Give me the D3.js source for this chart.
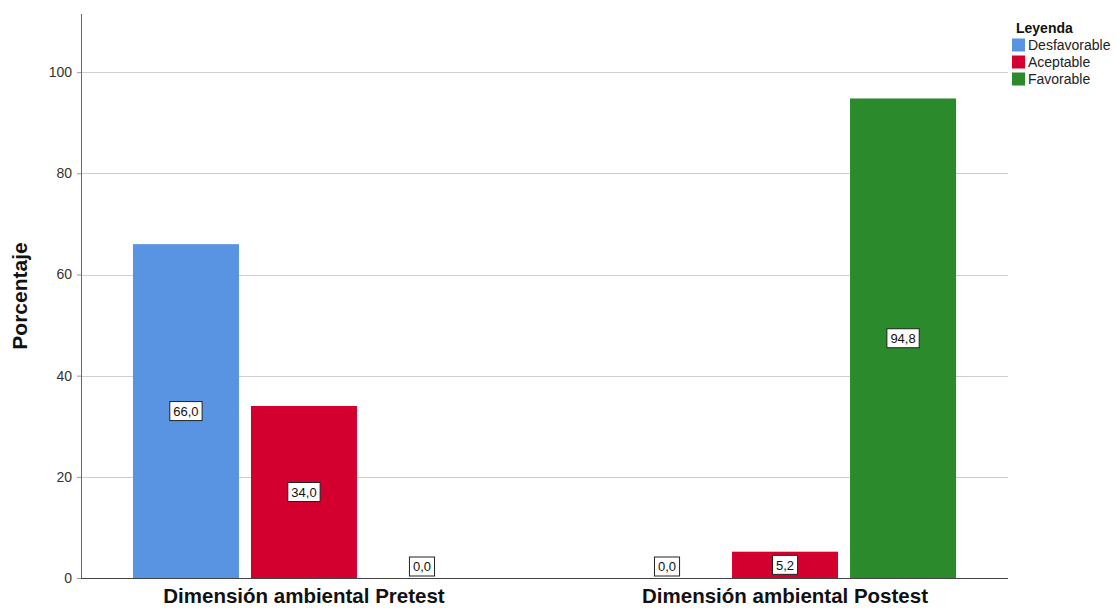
<!DOCTYPE html>
<html><head><meta charset="utf-8">
<script src="https://cdn.jsdelivr.net/npm/d3@7"></script>
<style>body{margin:0;background:#fff}svg{display:block}</style>
</head><body>
<svg id="c" width="1116" height="608"></svg>
<script>
const categories = ["Dimensión ambiental Pretest", "Dimensión ambiental Postest"];
const series = ["Desfavorable", "Aceptable", "Favorable"];
const desfavorable = [66.0, 0.0];
const aceptable = [34.0, 5.2];
const favorable = [0.0, 94.8];
const yTicks = [0, 20, 40, 60, 80, 100];
const colors = ["#5894e2", "#d3002f", "#2a8a2c"];

(function () {
const svg = d3.select("#c");
const pl = 81, pr = 1008, pt = 14, pb = 578;
const y = d3.scaleLinear().domain([0, 111.5]).range([pb, pt]);
const x0 = d3.scaleBand().domain(categories).range([pl, pr]).paddingInner(0.289).paddingOuter(0.108);
const x1 = d3.scaleBand().domain(series).range([0, x0.bandwidth()]).paddingInner(0.1017).paddingOuter(0);

const values = [desfavorable, aceptable, favorable];
const data = [];
categories.forEach((c, ci) => series.forEach((s, si) => data.push({c, s, si, v: values[si][ci]})));

const FONT = "Arial, 'Liberation Sans', sans-serif";

// grid
svg.append("g").selectAll("line").data(yTicks.filter(d => d > 0)).join("line")
  .attr("x1", pl).attr("x2", pr).attr("y1", d => Math.round(y(d)) + 0.5).attr("y2", d => Math.round(y(d)) + 0.5)
  .attr("stroke", "#cfcfcf").attr("stroke-width", 1);

// y axis
const ya = svg.append("g").attr("transform", `translate(${pl},0)`)
  .call(d3.axisLeft(y).tickValues(yTicks).tickSize(4).tickPadding(5).tickFormat(d3.format("d")));
ya.select(".domain").remove();
ya.selectAll(".tick line").attr("stroke", "#999");
ya.selectAll("text").attr("font-family", FONT).attr("font-size", 14).attr("fill", "#333");
svg.append("line").attr("x1", pl + 0.5).attr("x2", pl + 0.5).attr("y1", pt).attr("y2", pb).attr("stroke", "#666");

// bars
svg.append("g").selectAll("rect").data(data.filter(d => d.v > 0)).join("rect")
  .attr("x", d => x0(d.c) + x1(d.s)).attr("width", x1.bandwidth())
  .attr("y", d => y(d.v)).attr("height", d => y(0) - y(d.v))
  .attr("fill", d => colors[d.si]);

// x axis line
svg.append("line").attr("x1", pl).attr("x2", pr).attr("y1", pb + 0.5).attr("y2", pb + 0.5).attr("stroke", "#444");

// labels
const fmt = v => d3.format(".1f")(v).replace(".", ",");
const lg = svg.append("g").selectAll("g").data(data).join("g")
  .attr("transform", d => {
    const cx = x0(d.c) + x1(d.s) + x1.bandwidth() / 2;
    let cy = (y(d.v) + y(0)) / 2;
    cy = Math.min(cy, y(0) - 11.5);
    return `translate(${cx},${cy})`;
  });
lg.each(function (d) {
  const g = d3.select(this);
  const t = g.append("text").text(fmt(d.v)).attr("text-anchor", "middle").attr("dy", "0.36em")
    .attr("font-family", FONT).attr("font-size", 13).attr("fill", "#111");
  const w = t.node().getComputedTextLength() + 7;
  g.insert("rect", "text").attr("x", -w / 2).attr("y", -9.5).attr("width", w).attr("height", 19)
    .attr("fill", "#fff").attr("stroke", "#222").attr("stroke-width", 1);
});

// x category labels
svg.append("g").selectAll("text").data(categories).join("text")
  .attr("x", d => x0(d) + x0.bandwidth() / 2).attr("y", 603).attr("text-anchor", "middle")
  .attr("font-family", FONT).attr("font-size", 20.5).attr("font-weight", "bold").attr("fill", "#111")
  .text(d => d);

// y title
svg.append("text").attr("transform", "translate(27,296) rotate(-90)").attr("text-anchor", "middle")
  .attr("font-family", FONT).attr("font-size", 21).attr("font-weight", "bold").attr("fill", "#111")
  .text("Porcentaje");

// legend
const leg = svg.append("g");
leg.append("text").attr("x", 1016).attr("y", 33).text("Leyenda")
  .attr("font-family", FONT).attr("font-size", 14).attr("font-weight", "bold").attr("fill", "#111");
const li = leg.selectAll("g.i").data(series).join("g").attr("class", "i")
  .attr("transform", (d, i) => `translate(1012,${38.5 + i * 17})`);
li.append("rect").attr("width", 13).attr("height", 13).attr("fill", (d, i) => colors[i]);
li.append("text").attr("x", 16).attr("y", 11.5).text(d => d)
  .attr("font-family", FONT).attr("font-size", 14).attr("fill", "#222");
})();
</script>
</body></html>
